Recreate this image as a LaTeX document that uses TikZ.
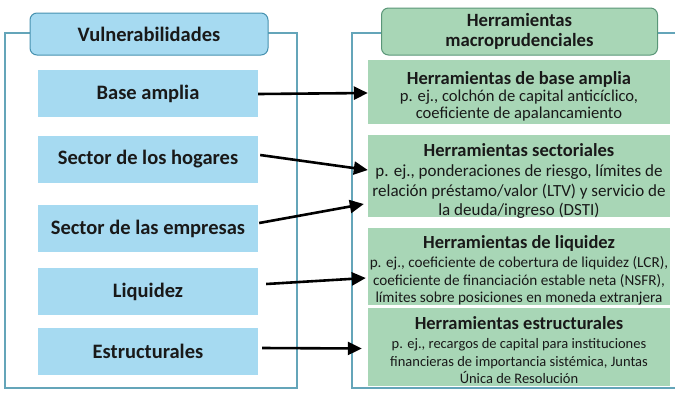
\documentclass[tikz,border=0pt]{standalone}
\usepackage{fontspec}
\setmainfont{Carlito}
\usetikzlibrary{arrows.meta}
\definecolor{bluefill}{RGB}{166,218,241}
\definecolor{blueedge}{RGB}{70,145,175}
\definecolor{frameline}{RGB}{100,165,185}
\definecolor{greenfill}{RGB}{168,214,182}
\definecolor{greenedge}{RGB}{90,150,120}
\definecolor{txt}{RGB}{25,25,25}
\tikzset{
  frame/.style={draw=frameline, line width=1.1pt},
  vtitle/.style={draw=blueedge, fill=bluefill, rounded corners=7pt, line width=1pt, inner sep=0pt, text=txt, font=\bfseries\fontsize{20.5}{22}\selectfont, align=center},
  gtitle/.style={draw=greenedge, fill=greenfill, rounded corners=7pt, line width=1pt, inner sep=0pt, text=txt, font=\bfseries\fontsize{18.7}{20}\selectfont, align=center},
  vbox/.style={fill=bluefill, minimum width=220pt, minimum height=47pt, inner sep=0pt, text=txt, font=\bfseries\fontsize{20.5}{22}\selectfont},
  gbox/.style={fill=greenfill, minimum width=302pt, inner sep=0pt},
  gtext/.style={inner sep=0pt, text=txt, align=center},
  conn/.style={line width=2.6pt, -{Triangle[length=14pt,width=13pt]}}
}
\newcommand{\hdtext}[1]{{\bfseries\fontsize{18.5}{18.5}\selectfont #1}}
\begin{document}
\begin{tikzpicture}[x=1pt,y=-1pt]
\useasboundingbox (0,0) rectangle (675,392);
% frames
\draw[frame] (5,33) rectangle (297,388);
\draw[frame] (675,33) -- (352,33) -- (352,388) -- (675,388);
% titles
\node[vtitle, minimum width=238pt, minimum height=42pt] (vt) at (149,34) {Vulnerabilidades};
\node[gtitle, minimum width=276pt, minimum height=47pt] (gt) at (519.5,31.5) {Herramientas\\macroprudenciales};
% left boxes
\node[vbox] (base) at (148,93.5) {Base amplia};
\node[vbox] (hog) at (148,159.5) {Sector de los hogares};
\node[vbox] (emp) at (148,228.5) {Sector de las empresas};
\node[vbox] (liq) at (148,291.5) {Liquidez};
\node[vbox] (est) at (148,351.5) {Estructurales};
% right boxes
\node[gbox, minimum height=64pt] (gbase) at (519,92) {};
\node[gbox, minimum height=82pt] (gsec) at (519,176) {};
\node[gbox, minimum height=77pt] (gliq) at (519,266.5) {};
\node[gbox, minimum height=78pt] (gest) at (519,347) {};
% right texts
\node[gtext, font=\fontsize{16.6}{16.5}\selectfont] (gbaseT) at (519,96.5) {\hdtext{Herramientas de base amplia}\\[0.5pt]p. ej., colchón de capital anticíclico,\\coeficiente de apalancamiento};
\node[gtext, font=\fontsize{17}{19.5}\selectfont] (gsecT) at (519,181) {\hdtext{Herramientas sectoriales}\\[0.5pt]p. ej., ponderaciones de riesgo, límites de\\relación préstamo/valor (LTV) y servicio de\\la deuda/ingreso (DSTI)};
\node[gtext, font=\fontsize{15.2}{17.5}\selectfont] (gliqT) at (519,270.5) {\hdtext{Herramientas de liquidez}\\[2pt]p. ej., coeficiente de cobertura de liquidez (LCR),\\coeficiente de financiación estable neta (NSFR),\\límites sobre posiciones en moneda extranjera};
\node[gtext, font=\fontsize{14.5}{17.5}\selectfont] (gestT) at (519,350) {\hdtext{Herramientas estructurales}\\[2pt]p. ej., recargos de capital para instituciones\\financieras de importancia sistémica, Juntas\\Única de Resolución};
% connectors
\draw[conn] ([yshift=-0.5pt]base.east) -- ([yshift=-1pt]gbase.west);
\draw[conn] ([xshift=2pt,yshift=4.5pt]hog.east) -- ([yshift=6pt]gsec.west);
\draw[conn] ([xshift=1pt,yshift=5.5pt]emp.east) -- ([xshift=-4pt,yshift=-28pt]gsec.west);
\draw[conn] ([xshift=8pt,yshift=7.5pt]liq.east) -- ([xshift=-2pt,yshift=-11.5pt]gliq.west);
\draw[conn] ([xshift=4pt,yshift=3.5pt]est.east) -- ([xshift=-6pt,yshift=-1.5pt]gest.west);
\end{tikzpicture}
\end{document}
